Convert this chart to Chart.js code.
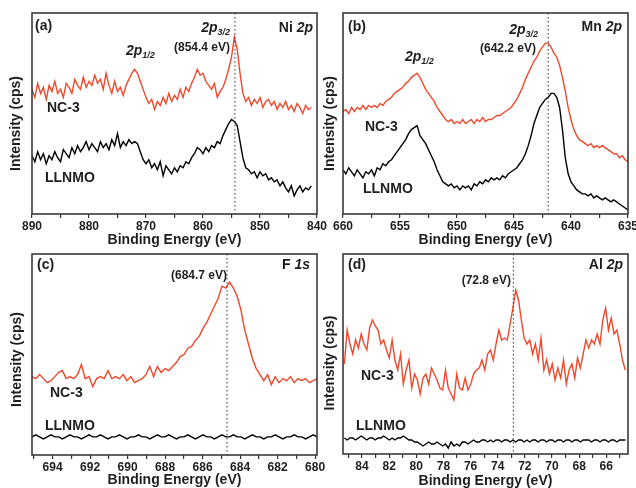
<!DOCTYPE html>
<html>
<head>
<meta charset="utf-8">
<script src="https://cdn.jsdelivr.net/npm/chart.js@4/dist/chart.umd.min.js"></script>
<style>
  html, body { margin: 0; padding: 0; background: #fff; overflow: hidden; width: 636px; height: 488px; }
  canvas { position: absolute; }
</style>
</head>
<body>
<canvas id="panelA" width="332" height="250" style="left:0;top:0"></canvas>
<canvas id="panelB" width="320" height="250" style="left:318px;top:0"></canvas>
<canvas id="panelC" width="332" height="250" style="left:0;top:244px"></canvas>
<canvas id="panelD" width="320" height="250" style="left:318px;top:244px"></canvas>
<script>
// ---- data (intensity in arbitrary units, 0 = bottom of frame, 100 = top) ----

// (a) Ni 2p, 890 -> 841 eV
const niRange = [890, 841];
const niTicks = [840, 845, 850, 855, 860, 865, 870, 875, 880, 885, 890];
const niLabels = [840, 850, 860, 870, 880, 890];
const niNC3 = [
  62,58,65,60,63,57,64,61,66,60,
  62,58,65,63,60,67,64,62,68,63,
  66,64,69,65,67,62,70,64,60,66,
  61,63,59,64,67,70,72,70,66,62,
  58,55,57,52,56,54,58,55,60,56,
  59,57,62,58,63,61,65,68,72,69,
  70,66,64,62,65,58,61,63,67,72,
  78,88,82,70,60,56,58,54,57,55,
  58,53,56,57,54,56,52,55,53,56,
  52,54,51,55,53,50,54,52,53];
const niLLNMO = [
  29,26,31,27,30,25,29,27,31,28,
  26,32,30,28,33,30,34,31,33,36,
  32,35,33,31,36,33,35,32,37,34,
  40,33,36,34,37,35,36,35,31,27,
  25,27,23,25,22,26,19,24,22,20,
  23,21,24,23,26,25,28,30,33,32,
  30,33,31,34,33,36,35,39,42,45,
  47,46,44,36,28,23,22,20,21,18,
  21,19,20,17,18,16,17,14,16,13,
  11,14,9,12,14,11,13,12,14];

// (b) Mn 2p, 660 -> 635 eV
const mnRange = [660, 635];
const mnTicks = [635, 637.5, 640, 642.5, 645, 647.5, 650, 652.5, 655, 657.5, 660];
const mnLabels = [635, 640, 645, 650, 655, 660];
const mnNC3 = [
  51,52,50,53,51,53,52,54,52,54,
  53,54,53,55,54,56,57,58,60,61,
  62,63,65,66,68,69,70,68,65,62,
  60,58,56,53,51,49,47,46,47,45,
  46,45,47,45,46,47,45,47,46,48,
  46,47,47,48,49,49,50,51,52,53,
  55,57,60,63,67,70,73,76,78,81,
  83,85,85,83,80,78,74,68,61,53,
  47,42,39,37,36,35,34,35,33,34,
  33,34,33,32,31,30,30,28,29,27,
  26];
const mnLLNMO = [
  22,20,23,21,19,22,20,18,21,20,
  22,19,23,22,25,24,26,27,29,31,
  33,35,37,40,42,43,44,39,37,35,
  32,29,26,22,19,16,15,14,15,13,
  14,12,14,13,14,12,15,14,16,15,
  17,16,18,17,18,17,19,18,20,21,
  22,23,25,27,30,34,39,45,49,53,
  55,57,58,60,60,58,53,42,28,20,
  16,14,12,11,10,10,9,10,8,9,
  8,7,8,7,6,7,6,5,4,3,
  2];

// (c) F 1s, 695.1 -> 679.9 eV
const fRange = [695.1, 679.9];
const fTicks = [680, 681, 682, 683, 684, 685, 686, 687, 688, 689, 690, 691, 692, 693, 694, 695];
const fLabels = [680, 682, 684, 686, 688, 690, 692, 694];
const fNC3 = [
  39,38,40,38,36,37,39,41,42,38,
  39,38,40,45,38,39,34,38,39,38,
  42,38,39,38,40,37,39,36,37,38,
  40,44,39,44,41,43,42,44,46,49,
  50,53,54,57,59,63,66,70,74,78,
  84,83,86,83,79,72,62,55,48,43,
  40,37,40,35,39,36,38,37,39,36,
  38,37,38,36,37,38];
const fLLNMO = [
  9,10,9,8,9,10,9,9,8,9,
  10,9,9,8,9,10,9,9,10,9,
  8,9,9,10,9,8,9,9,10,9,
  9,8,9,10,9,9,10,9,8,9,
  9,10,9,8,9,10,9,9,8,9,
  10,9,9,10,9,9,8,9,10,9,
  9,8,9,9,10,9,8,9,9,10,
  9,9,8,9,10,9];

// (d) Al 2p, 85.3 -> 64.6 eV
const alRange = [85.3, 64.6];
const alTicks = [65, 66, 67, 68, 69, 70, 71, 72, 73, 74, 75, 76, 77, 78, 79, 80, 81, 82, 83, 84, 85];
const alLabels = [66, 68, 70, 72, 74, 76, 78, 80, 82, 84];
const alNC3 = [
  45,62,55,50,57,53,60,55,52,63,
  67,64,62,55,57,52,48,57,47,42,
  50,35,42,47,33,40,37,30,38,40,
  35,43,40,37,33,32,42,33,30,27,
  40,33,32,38,32,35,40,42,43,47,
  42,50,52,47,55,62,57,58,57,65,
  73,82,77,67,58,55,57,50,55,47,
  58,42,47,40,45,37,43,38,47,35,
  42,45,38,48,43,50,57,53,57,55,
  60,55,67,73,62,68,60,62,55,47,
  42];
const alLLNMO = [
  8,7,8,8,7,8,9,8,7,8,
  8,7,8,8,9,8,7,8,7,8,
  8,9,8,7,7,6,6,5,4,5,
  6,5,5,6,5,4,5,3,6,4,
  5,4,6,6,5,6,7,6,6,7,
  7,6,7,6,7,7,6,7,7,6,
  7,6,7,7,6,7,6,7,7,6,
  7,7,6,7,7,6,7,7,6,7,
  7,6,7,7,6,7,7,7,6,7,
  7,6,7,7,6,7,7,6,7,7,
  7];

// peak marker positions (eV)
const niPeak = 854.4;
const mnPeak = 642.0;
const fPeak = 684.7;
const alPeak = 72.85;

// ---- styling ----
const FONT = "'Liberation Sans', Arial, sans-serif";
const INK = '#1e1e1e';
const RED = '#f0482b';
const FRAME = '#3a3a3a';

const fontFor = p => `${p.italic ? 'italic ' : ''}bold ${p.size || 14}px ${FONT}`;

/**
 * Draw a run of text pieces (plain / italic / subscript) on one line.
 */
function drawRich(ctx, parts, x, y, align) {
  let w = 0;
  parts.forEach(p => { ctx.font = fontFor(p); w += ctx.measureText(p.t).width; });
  let cx = align === 'right' ? x - w : x;
  parts.forEach(p => {
    ctx.font = fontFor(p);
    ctx.fillText(p.t, cx, y + (p.sub ? 5 : 0));
    cx += ctx.measureText(p.t).width;
  });
}

// frame box, dotted peak line, in-plot labels and the rotated y title
const framePlugin = {
  id: 'frame',
  afterDatasetsDraw(chart, args, opts) {
    const { ctx, chartArea: a, scales: { x } } = chart;
    ctx.save();

    const px = x.getPixelForValue(opts.marker);
    ctx.setLineDash([1.5, 2.5]);
    ctx.strokeStyle = '#333';
    ctx.lineWidth = 1;
    ctx.beginPath();
    ctx.moveTo(px, a.top);
    ctx.lineTo(px, a.bottom);
    ctx.stroke();
    ctx.setLineDash([]);

    ctx.lineWidth = 1.6;
    ctx.strokeStyle = FRAME;
    ctx.strokeRect(a.left, a.top, a.right - a.left, a.bottom - a.top);

    ctx.fillStyle = INK;
    ctx.textBaseline = 'middle';
    ctx.textAlign = 'left';
    opts.notes.forEach(n => drawRich(ctx, n.parts, a.left + n.dx, a.top + n.dy, n.align));

    ctx.translate(a.left - opts.yGap, (a.top + a.bottom) / 2 + opts.yShift);
    ctx.rotate(-Math.PI / 2);
    ctx.textAlign = 'center';
    ctx.font = `bold 14px ${FONT}`;
    ctx.fillText('Intensity (cps)', 0, 0);
    ctx.restore();
  },
};

const sub = t => ({ t, italic: true, size: 9, sub: true });
const it = t => ({ t, italic: true });

function buildPanel(id, cfg) {
  const n = cfg.nc3.length;
  const energies = cfg.nc3.map((_, i) => cfg.range[0] + (cfg.range[1] - cfg.range[0]) * i / (n - 1));
  const series = (vals, color) => ({
    data: vals.map((v, i) => ({ x: energies[i], y: v })),
    borderColor: color,
    borderWidth: 1.4,
    pointRadius: 0,
    fill: false,
    tension: 0,
  });

  new Chart(document.getElementById(id), {
    type: 'line',
    data: { datasets: [series(cfg.llnmo, '#000'), series(cfg.nc3, RED)] },
    options: {
      responsive: false,
      animation: false,
      devicePixelRatio: 1,
      events: [],
      layout: { padding: cfg.pad },
      plugins: {
        legend: { display: false },
        tooltip: { enabled: false },
        frame: { marker: cfg.marker, notes: cfg.notes, yGap: cfg.yGap, yShift: cfg.yShift },
      },
      scales: {
        x: {
          type: 'linear',
          reverse: true,
          min: cfg.xMin,
          max: cfg.xMax,
          afterBuildTicks: s => { s.ticks = cfg.ticks.map(v => ({ value: v })); },
          afterFit: s => { s.height = cfg.xAxisH; },
          border: { display: false },
          grid: { drawOnChartArea: false, tickLength: 4, color: '#333', lineWidth: 1.2 },
          ticks: {
            autoSkip: false,
            maxRotation: 0,
            padding: 1,
            color: INK,
            font: { family: FONT, size: 12, weight: 'bold' },
            callback: v => (cfg.labels.includes(v) ? String(v) : ''),
          },
          title: {
            display: true,
            text: 'Binding Energy (eV)',
            color: INK,
            font: { family: FONT, size: 14, weight: 'bold' },
            padding: { top: 0, bottom: cfg.titlePad },
          },
        },
        y: {
          min: 0,
          max: 100,
          afterFit: s => { s.width = cfg.yAxisW; },
          border: { display: false },
          grid: { display: false },
          ticks: { display: false },
        },
      },
    },
    plugins: [framePlugin],
  });
}

buildPanel('panelA', {
  range: niRange, nc3: niNC3, llnmo: niLLNMO, marker: niPeak,
  xMin: 840, xMax: 890, ticks: niTicks, labels: niLabels,
  pad: { left: 0, top: 13, right: 15, bottom: 0 }, xAxisH: 36, yAxisW: 32, titlePad: 1,
  yGap: 16, yShift: 10,
  notes: [
    { parts: [{ t: '(a)' }], dx: 3, dy: 13 },
    { parts: [{ t: 'Ni ' }, it('2p')], dx: 281, dy: 15, align: 'right' },
    { parts: [it('2p'), sub('3/2')], dx: 198, dy: 15, align: 'right' },
    { parts: [{ t: '(854.4 eV)', size: 12 }], dx: 198, dy: 35, align: 'right' },
    { parts: [it('2p'), sub('1/2')], dx: 94, dy: 38 },
    { parts: [{ t: 'NC-3' }], dx: 15, dy: 95 },
    { parts: [{ t: 'LLNMO' }], dx: 13, dy: 165 },
  ],
});

buildPanel('panelB', {
  range: mnRange, nc3: mnNC3, llnmo: mnLLNMO, marker: mnPeak,
  xMin: 635, xMax: 660, ticks: mnTicks, labels: mnLabels,
  pad: { left: 0, top: 13, right: 10, bottom: 0 }, xAxisH: 36, yAxisW: 25, titlePad: 1,
  yGap: 12.5, yShift: 10,
  notes: [
    { parts: [{ t: '(b)' }], dx: 5, dy: 14 },
    { parts: [{ t: 'Mn ' }, it('2p')], dx: 279, dy: 14, align: 'right' },
    { parts: [it('2p'), sub('3/2')], dx: 195, dy: 17, align: 'right' },
    { parts: [{ t: '(642.2 eV)', size: 12 }], dx: 193, dy: 36, align: 'right' },
    { parts: [it('2p'), sub('1/2')], dx: 62, dy: 44 },
    { parts: [{ t: 'NC-3' }], dx: 22, dy: 114 },
    { parts: [{ t: 'LLNMO' }], dx: 20, dy: 176 },
  ],
});

buildPanel('panelC', {
  range: fRange, nc3: fNC3, llnmo: fLLNMO, marker: fPeak,
  xMin: 679.9, xMax: 695.1, ticks: fTicks, labels: fLabels,
  pad: { left: 0, top: 10, right: 15, bottom: 0 }, xAxisH: 39, yAxisW: 32, titlePad: 5,
  yGap: 15, yShift: 5,
  notes: [
    { parts: [{ t: '(c)' }], dx: 5, dy: 11 },
    { parts: [{ t: 'F ' }, it('1s')], dx: 278, dy: 11, align: 'right' },
    { parts: [{ t: '(684.7 eV)', size: 12 }], dx: 195, dy: 22, align: 'right' },
    { parts: [{ t: 'NC-3' }], dx: 18, dy: 139 },
    { parts: [{ t: 'LLNMO' }], dx: 13, dy: 172 },
  ],
});

buildPanel('panelD', {
  range: alRange, nc3: alNC3, llnmo: alLLNMO, marker: alPeak,
  xMin: 64.4, xMax: 85.4, ticks: alTicks, labels: alLabels,
  pad: { left: 0, top: 10, right: 10, bottom: 0 }, xAxisH: 40, yAxisW: 25, titlePad: 4,
  yGap: 12.5, yShift: 9,
  notes: [
    { parts: [{ t: '(d)' }], dx: 5, dy: 11 },
    { parts: [{ t: 'Al ' }, it('2p')], dx: 280, dy: 11, align: 'right' },
    { parts: [{ t: '(72.8 eV)', size: 12 }], dx: 168, dy: 27, align: 'right' },
    { parts: [{ t: 'NC-3' }], dx: 18, dy: 122 },
    { parts: [{ t: 'LLNMO' }], dx: 13, dy: 172 },
  ],
});
</script>
</body>
</html>
